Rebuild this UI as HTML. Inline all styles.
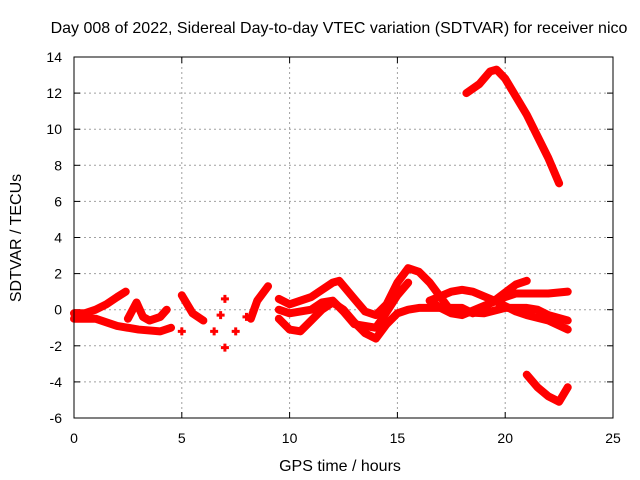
<!DOCTYPE html>
<html><head><meta charset="utf-8"><style>
body{margin:0;background:#fff}
svg{display:block;font-family:"Liberation Sans",sans-serif}
</style></head><body>
<svg id="chart" width="640" height="480">
<text x="339" y="33" text-anchor="middle" font-size="16">Day 008 of 2022, Sidereal Day-to-day VTEC variation (SDTVAR) for receiver nico</text>
<text x="340" y="471" text-anchor="middle" font-size="16">GPS time / hours</text>
<text transform="translate(21,238) rotate(-90)" text-anchor="middle" font-size="16">SDTVAR / TECUs</text>
<g id="grid"></g><g id="series"></g>
<rect x="74" y="57" width="539" height="361" fill="none" stroke="#000" stroke-width="1"/>
</svg>
<script>
const xTicks=[0,5,10,15,20,25];
const yTicks=[-6,-4,-2,0,2,4,6,8,10,12,14];
const s1=[[18.2,12],[18.8,12.5],[19.3,13.2],[19.6,13.3],[20,12.8],[20.5,11.8],[21,10.8],[21.5,9.6],[22,8.4],[22.5,7.0]];
const s2=[[21,-3.6],[21.5,-4.3],[22,-4.8],[22.5,-5.1],[22.9,-4.3]];
const s3=[[0,-0.2],[0.5,-0.2],[1,0],[1.5,0.3],[2,0.7],[2.4,1.0]];
const s4=[[0,-0.5],[1,-0.5],[1.5,-0.7],[2,-0.9],[3,-1.1],[4,-1.2],[4.5,-1.0]];
const s5=[[2.5,-0.5],[2.9,0.4],[3.2,-0.4],[3.5,-0.6],[4,-0.4],[4.3,0]];
const s6=[[5,0.8],[5.5,-0.2],[6,-0.6]];
const s7=[[7,-2.1],[7,0.6],[6.5,-1.2],[7.5,-1.2],[6.8,-0.3],[5,-1.2],[8,-0.4]];
const s8=[[8.2,-0.5],[8.5,0.5],[9,1.3]];
const s9=[[9.5,-0.5],[10,-1.1],[10.5,-1.2],[11,-0.6],[11.5,0],[12,0.4],[12.5,0],[13,-0.7],[13.5,-1.3],[14,-1.6],[14.5,-0.8],[15,-0.2],[15.5,0],[16,0.1],[17,0.1],[17.5,-0.2],[18,-0.3],[19,0.2],[20,0.7],[20.5,0.9],[21,0.9],[22,0.9],[22.9,1.0]];
const s10=[[9.5,0.6],[10,0.3],[11,0.7],[12,1.5],[12.3,1.6],[13,0.6],[13.5,-0.1],[14,-0.3],[14.5,0.3],[15,1.5],[15.5,2.3],[16,2.1],[16.5,1.5],[17,0.7],[17.5,-0.1],[19,-0.2],[20,0.1],[21,0.1],[21.5,0],[22,-0.3],[22.9,-0.6]];
const s11=[[9.5,0],[10,-0.2],[11,0],[11.5,0.4],[12,0.5],[12.5,-0.1],[13,-0.8],[14,-1.0],[14.3,-0.5],[15,0.8],[15.5,1.5]];
const s12=[[16.5,0.5],[17.5,1.0],[18,1.1],[18.5,1.0],[19.5,0.5],[20.5,-0.1],[21,-0.3],[22,-0.6],[22.9,-1.1]];
const s13=[[16.5,0.5],[17,0.1],[18,0.1],[18.5,-0.2],[19.5,0.5],[20.5,1.4],[21,1.6]];
const allSeries=[s1,s2,s3,s4,s5,s6,s7,s8,s9,s10,s11,s12,s13];
const X0=74,X1=613,Y0=418,Y1=57;
function xs(v){return X0+(v-0)/(25-0)*(X1-X0);}
function ys(v){return Y0-(v+6)/(20)*(Y0-Y1);}
const NS="http://www.w3.org/2000/svg";
const grid=document.getElementById('grid'),ser=document.getElementById('series');
function mk(t,a,p){const e=document.createElementNS(NS,t);for(const k in a)e.setAttribute(k,a[k]);p.appendChild(e);return e;}
xTicks.forEach(v=>{const x=xs(v);
 if(v>0&&v<25){const l=mk('line',{x1:x,x2:x,y1:Y1,y2:Y0,stroke:'#a0a0a0','stroke-dasharray':'2,3'},grid);
 
 }
 const t=mk('text',{x:x,y:Y0+25,'text-anchor':'middle','font-size':14},grid);t.textContent=v;
 
 
 mk('line',{x1:x,x2:x,y1:Y0,y2:Y0-6,stroke:'#000'},grid);mk('line',{x1:x,x2:x,y1:Y1,y2:Y1+6,stroke:'#000'},grid);});
yTicks.forEach(v=>{const y=ys(v);
 if(v>-6&&v<14){const l=mk('line',{x1:X0,x2:X1,y1:y,y2:y,stroke:'#a0a0a0','stroke-dasharray':'2,3'},grid);
 
 }
 const t=mk('text',{x:X0-12,y:y+5,'text-anchor':'end','font-size':14},grid);t.textContent=v;
 
 
 mk('line',{x1:X0,x2:X0+6,y1:y,y2:y,stroke:'#000'},grid);mk('line',{x1:X1,x2:X1-6,y1:y,y2:y,stroke:'#000'},grid);});
allSeries.forEach((s,i)=>{
 const g=mk('g',{},ser);
 
 
 if(s===s7){s.forEach(p=>{const c=mk('path',{d:`M${xs(p[0])-4},${ys(p[1])}h8M${xs(p[0])},${ys(p[1])-4}v8`,stroke:'#f00','stroke-width':3},g);
  
  });return;}
 const pl=mk('polyline',{points:s.map(p=>xs(p[0])+','+ys(p[1])).join(' '),fill:'none',stroke:'#f00','stroke-width':8,'stroke-linejoin':'round','stroke-linecap':'round'},g);
 
 
});
</script>
</body></html>
